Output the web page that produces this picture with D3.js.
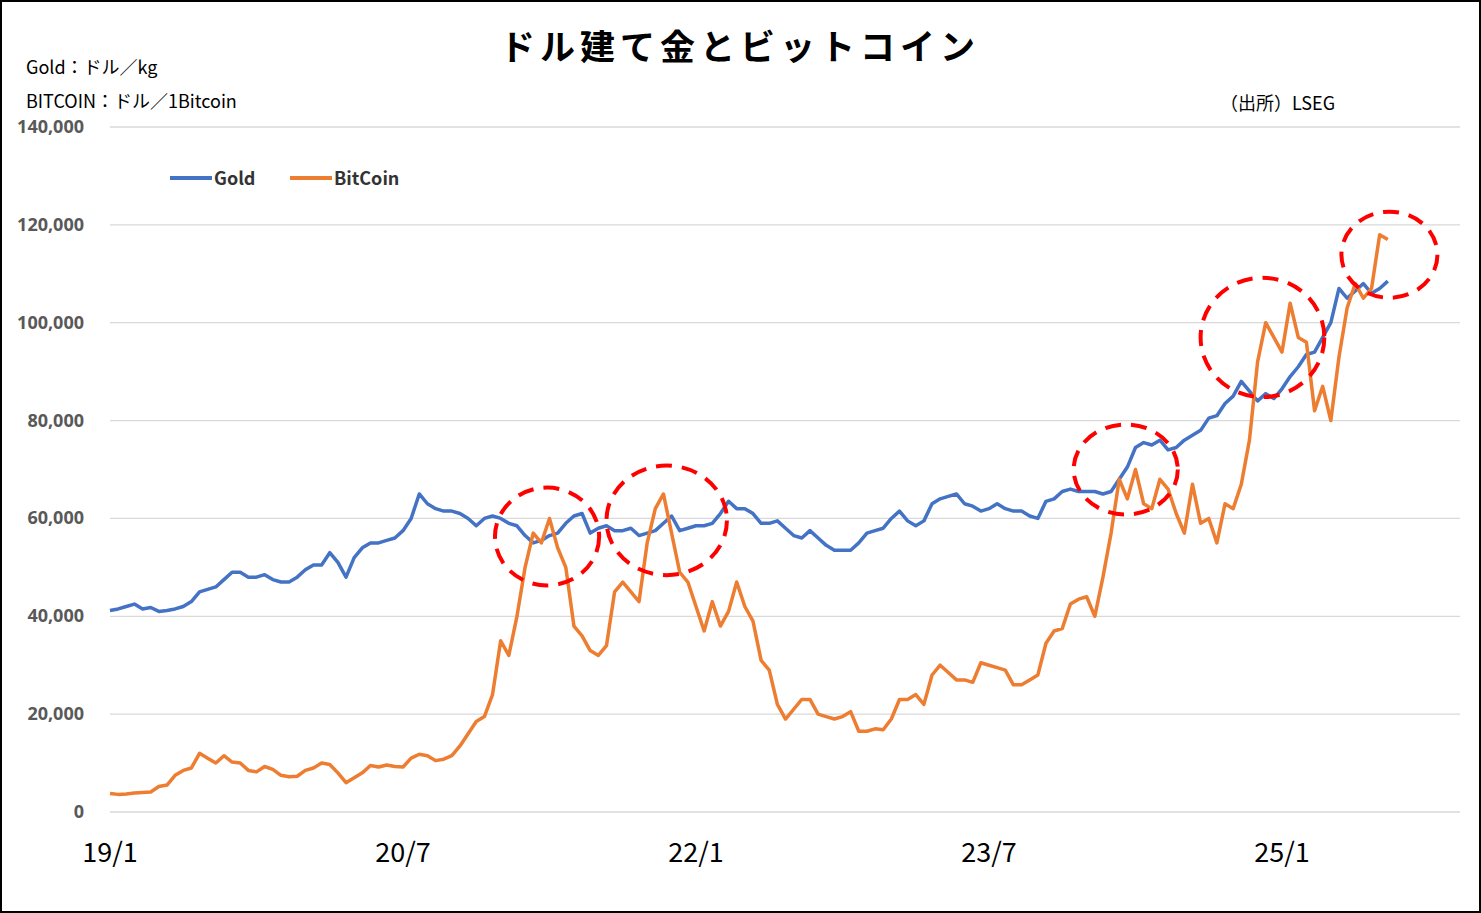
<!DOCTYPE html><html><head><meta charset="utf-8"><script src="https://cdn.jsdelivr.net/npm/d3@7"></script>
<style>body{margin:0;background:#fff;font-family:"Noto Sans CJK JP","Noto Sans",sans-serif}</style></head><body><svg id="c" width="1481" height="913"></svg><script>
// semi-monthly values, Jan 2019 .. Jul 2025
const gold=[41200,41500,42000,42500,41500,41800,41000,41200,41500,42000,43000,45000,45500,46000,47500,49000,49000,48000,48000,48500,47500,47000,47000,48000,
49500,50500,50500,53000,51000,48000,52000,54000,55000,55000,55500,56000,57500,60000,65000,63000,62000,61500,61500,61000,60000,58500,60000,60500,
60000,59000,58500,56500,55000,55500,56500,57000,59000,60500,61000,57000,58000,58500,57500,57500,58000,56500,57000,57500,59000,60500,57500,58000,
58500,58500,59000,61000,63500,62000,62000,61000,59000,59000,59500,58000,56500,56000,57500,56000,54500,53500,53500,53500,55000,57000,57500,58000,
60000,61500,59500,58500,59500,63000,64000,64500,65000,63000,62500,61500,62000,63000,62000,61500,61500,60500,60000,63500,64000,65500,66000,65500,
65500,65500,65000,65500,68000,70500,74500,75500,75000,76000,74000,74500,76000,77000,78000,80500,81000,83500,85000,88000,86000,84000,85500,84500,
86500,89000,91000,93500,94000,97000,100000,107000,105000,106500,108000,106000,107000,108500];
const btc=[3800,3600,3700,3900,4000,4100,5200,5500,7500,8500,9000,12000,11000,10000,11500,10200,10000,8500,8200,9300,8700,7500,7200,7300,
8500,9000,10000,9700,8000,6000,7000,8000,9500,9200,9600,9300,9200,11000,11800,11500,10500,10800,11500,13500,16000,18500,19500,24000,
35000,32000,40000,50000,57000,55000,60000,54000,50000,38000,36000,33000,32000,34000,45000,47000,45000,43000,55000,62000,65000,57000,49000,47000,
42000,37000,43000,38000,41000,47000,42000,39000,31000,29000,22000,19000,21000,23000,23000,20000,19500,19000,19500,20500,16500,16500,17000,16800,
19000,23000,23000,24000,22000,28000,30000,28500,27000,27000,26500,30500,30000,29500,29000,26000,26000,27000,28000,34500,37000,37500,42500,43500,
44000,40000,48000,57000,68000,64000,70000,63000,62000,68000,66000,61000,57000,67000,59000,60000,55000,63000,62000,67000,76000,92000,100000,97000,
94000,104000,97000,96000,82000,87000,80000,93000,103000,108000,105000,107000,118000,117000];
const yTicks=[0,20000,40000,60000,80000,100000,120000,140000];
const xTicks=[[0,"19/1"],[18,"20/7"],[36,"22/1"],[54,"23/7"],[72,"25/1"]];
const circles=[[26.85,56300,3.2,10000],[34.2,59600,3.7,11200],[62.4,70000,3.2,9200],[70.8,97000,3.8,12200],[78.6,113900,2.95,8800]];
const svg=d3.select("#c");
svg.append("rect").attr("x",1).attr("y",1).attr("width",1479).attr("height",911).attr("fill","#fff").attr("stroke","#000").attr("stroke-width",2);
const x=d3.scaleLinear().domain([0,18]).range([110,403]);
const y=d3.scaleLinear().domain([0,140000]).range([812,127]);
svg.append("g").selectAll("line").data(yTicks).join("line").attr("x1",110).attr("x2",1460).attr("y1",d=>y(d)).attr("y2",d=>y(d)).attr("stroke","#d9d9d9").attr("stroke-width",1.3);
svg.append("g").selectAll("text").data(yTicks).join("text").attr("x",84).attr("y",d=>y(d)+6).attr("text-anchor","end").attr("font-size",18).attr("font-weight","bold").attr("fill","#595959").attr("font-family","'Open Sans','Noto Sans',sans-serif").text(d=>d3.format(",")(d));
svg.append("g").selectAll("text").data(xTicks).join("text").attr("x",d=>x(d[0])).attr("y",862).attr("text-anchor","middle").attr("font-size",27).attr("fill","#000").text(d=>d[1]);
const line=d3.line().x((d,i)=>x(i/2)).y(d=>y(d));
svg.append("path").attr("d",line(gold)).attr("fill","none").attr("stroke","#4472c4").attr("stroke-width",3.5).attr("stroke-linejoin","round");
svg.append("path").attr("d",line(btc)).attr("fill","none").attr("stroke","#ed7d31").attr("stroke-width",3.5).attr("stroke-linejoin","round");
svg.append("g").selectAll("ellipse").data(circles).join("ellipse").attr("cx",d=>x(d[0])).attr("cy",d=>y(d[1])).attr("rx",d=>x(d[2])-x(0)).attr("ry",d=>y(0)-y(d[3])).attr("fill","none").attr("stroke","#ff0000").attr("stroke-width",4).attr("stroke-dasharray","16,10");
svg.append("text").attr("x",740).attr("y",60).attr("text-anchor","middle").attr("font-size",35).attr("font-weight","bold").attr("letter-spacing",5).text("ドル建て金とビットコイン");
svg.append("text").attr("x",26).attr("y",74).attr("font-size",18).text("Gold：ドル／kg");
svg.append("text").attr("x",26).attr("y",108).attr("font-size",18).text("BITCOIN：ドル／1Bitcoin");
svg.append("text").attr("x",1220).attr("y",110).attr("font-size",18).text("（出所）LSEG");
[["Gold","#4472c4",170],["BitCoin","#ed7d31",290]].forEach(([n,c,x0])=>{svg.append("line").attr("x1",x0).attr("x2",x0+42).attr("y1",178).attr("y2",178).attr("stroke",c).attr("stroke-width",4);svg.append("text").attr("x",x0+44).attr("y",185).attr("font-size",18).attr("font-weight","bold").attr("fill","#333").text(n);});
</script></body></html>
